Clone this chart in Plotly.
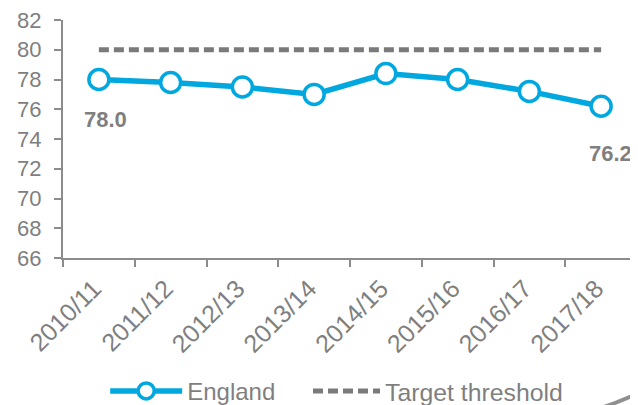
import plotly.graph_objects as go

categories = ["2010/11", "2011/12", "2012/13", "2013/14", "2014/15", "2015/16", "2016/17", "2017/18"]
england = [78.0, 77.8, 77.5, 77.0, 78.4, 78.0, 77.2, 76.2]
target = [80, 80, 80, 80, 80, 80, 80, 80]
y_ticks = [66, 68, 70, 72, 74, 76, 78, 80, 82]

GRAY = "#7f7f7f"
AXIS = "#8c8c8c"
BLUE = "#00a8df"
FONT = "Liberation Sans, Arial, sans-serif"

# page has an 8px body margin; the figure is offset by it and overflows the window edge
W, H = 660, 425

fig = go.Figure()
fig.add_trace(go.Scatter(
    x=categories, y=england, name="England", mode="lines+markers",
    line=dict(color=BLUE, width=5.5),
    marker=dict(size=20, color="white", line=dict(color=BLUE, width=3.5)),
    legend="legend",
))
fig.add_trace(go.Scatter(
    x=categories, y=target, name="Target threshold", mode="lines",
    line=dict(color="#7a7a7a", width=5, dash="10px,5px"),
    legend="legend2",
))

fig.add_annotation(x=categories[0], y=england[0], text="<b>78.0</b>", showarrow=False,
                   yshift=-40, xshift=7, font=dict(size=22, color=GRAY, family=FONT))
fig.add_annotation(x=categories[-1], y=england[-1], text="<b>76.2</b>", showarrow=False,
                   yshift=-47, xshift=9, font=dict(size=22, color=GRAY, family=FONT))

legend_common = dict(orientation="h", xanchor="left", y=-0.56, yanchor="middle",
                     bgcolor="rgba(0,0,0,0)")

fig.update_layout(
    width=W, height=H,
    margin=dict(l=55, r=W - 629, t=12, b=H - 250.5),
    paper_bgcolor="white", plot_bgcolor="white",
    font=dict(family=FONT, color=GRAY, size=22),
    showlegend=True,
    legend=dict(legend_common, x=0.0735, itemwidth=72,
                font=dict(size=24, color=GRAY, family=FONT)),
    legend2=dict(legend_common, x=0.4268, itemwidth=67,
                 font=dict(size=24.8, color=GRAY, family=FONT)),
    xaxis=dict(type="category", range=[-0.5, 7.5], tickson="boundaries",
               ticks="outside", ticklen=7, tickcolor=AXIS, tickwidth=2,
               showline=True, linecolor=AXIS, linewidth=2, showgrid=False,
               automargin=False, ticklabelstandoff=4, ticklabelshift=-5,
               tickangle=-45, tickfont=dict(size=25, color=GRAY, family=FONT)),
    yaxis=dict(range=[66, 82], tickvals=y_ticks, ticks="outside", ticklen=7,
               tickcolor=AXIS, tickwidth=2, showline=True, linecolor=AXIS,
               linewidth=2, showgrid=False, zeroline=False, automargin=False,
               ticklabelstandoff=8, ticklabeloverflow="allow",
               tickfont=dict(size=22, color=GRAY, family=FONT)),
)

fig.add_shape(type="path", xref="paper", yref="paper",
              path="M 0.932 -0.635 Q 0.978 -0.598 1.02 -0.547",
              line=dict(color="#8f8f8f", width=4))

fig.write_html("out.html")
